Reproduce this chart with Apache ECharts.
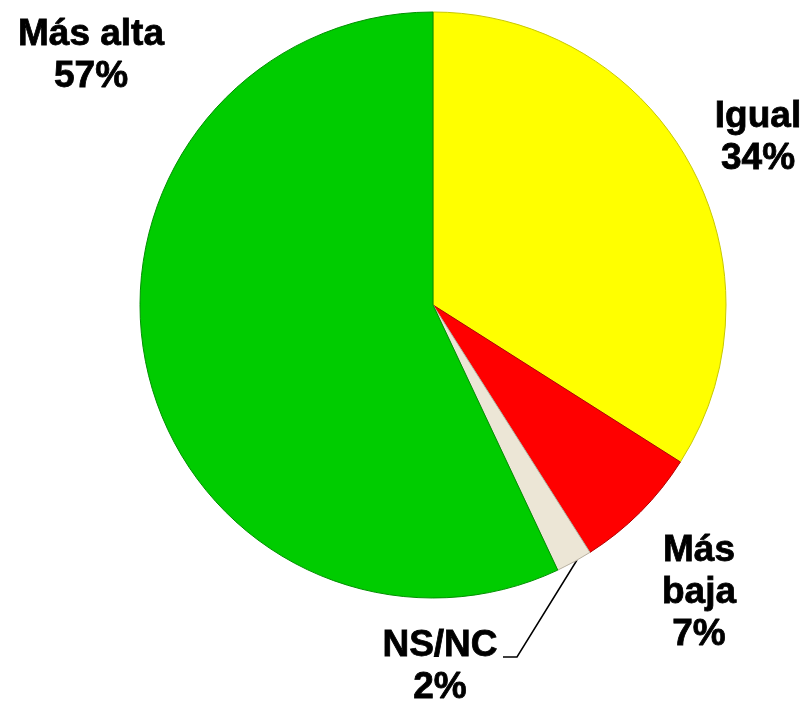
<!DOCTYPE html>
<html>
<head>
<meta charset="utf-8">
<script src="https://cdn.jsdelivr.net/npm/echarts@6/dist/echarts.min.js"></script>
<style>
  html, body { margin: 0; padding: 0; background: #fff; }
  #chart { width: 808px; height: 703px; }
</style>
</head>
<body>
<div id="chart"></div>
<script>
const names = ['Igual', 'Más baja', 'NS/NC', 'Más alta']
const labelNames = ['Igual', 'Más\nbaja', 'NS/NC', 'Más alta']
const values = [34, 7, 2, 57]
const colors = ['#ffff00', '#ff0000', '#ece6d6', '#00cc00']
const borders = ['#c8c800', '#b00000', '#b8b0a0', '#009000']

// donde van las etiquetas (centro del bloque de texto)
const labelPos = [
  { x: 758, y: 138 },
  { x: 699, y: 593 },
  { x: 440, y: 667 },
  { x: 91, y: 56 },
]

const chart = echarts.init(document.getElementById('chart'))

const option = {
  animation: false,
  series: [
    {
      type: 'pie',
      center: [433, 305],
      radius: 293,
      startAngle: 90,
      clockwise: true,
      data: names.map((n, i) => ({
        name: n,
        value: values[i],
        itemStyle: { color: colors[i], borderColor: borders[i], borderWidth: 1 },
        labelLine: { show: i === 2 },
      })),
      label: {
        show: true,
        position: 'outside',
        overflow: 'none',
        formatter: (p) => labelNames[p.dataIndex] + '\n' + p.value + '%',
        fontFamily: 'Liberation Sans, Arial, sans-serif',
        fontWeight: 'bold',
        fontSize: 37,
        lineHeight: 42,
        color: '#000',
        textBorderColor: '#000',
        textBorderWidth: 0.8,
        align: 'center',
      },
      labelLine: {
        show: true,
        lineStyle: { color: '#000', width: 1.5 },
      },
      labelLayout: (params) => {
        const pos = labelPos[params.dataIndex]
        const out = {
          x: pos.x,
          y: pos.y,
          align: 'center',
          verticalAlign: 'middle',
        }
        if (params.dataIndex === 2) {
          out.labelLinePoints = [[577, 560], [517, 657], [503, 657]]
        }
        return out
      },
    },
  ],
}

chart.setOption(option)
</script>
</body>
</html>
